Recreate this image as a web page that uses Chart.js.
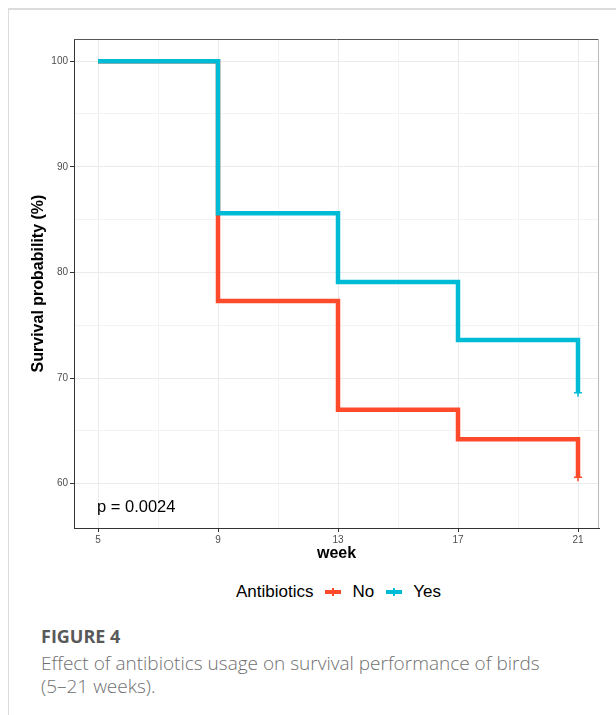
<!DOCTYPE html>
<html>
<head>
<meta charset="utf-8">
<script src="https://cdn.jsdelivr.net/npm/chart.js@4.4.1/dist/chart.umd.min.js"></script>
<style>
  html, body { margin: 0; padding: 0; background: #fff; }
  body { width: 616px; height: 715px; position: relative; overflow: hidden; font-family: "Liberation Sans", Arial, sans-serif; }
  #frame { position: absolute; left: 8px; top: 8px; right: 0; bottom: 0; border-top: 2px solid #dcdcdc; border-left: 1px solid #dcdcdc; }
  #chart { position: absolute; left: 0; top: 0; }
  #pval { position: absolute; left: 97px; top: 497px; font-size: 16.5px; color: #000; }
  #legend { position: absolute; top: 582px; left: 236px; font-size: 17px; color: #000; display: flex; align-items: center; height: 20px; }
  .key { display: inline-block; position: relative; width: 16px; height: 4px; margin: 0 11px 0 12px; }
  .key::after { content: ""; position: absolute; left: 7px; top: -2px; width: 1.5px; height: 8px; background: inherit; }
  .caption { position: absolute; left: 41px; font-family: "Open Sans", "Noto Sans", sans-serif; color: #707070; font-size: 19px; font-weight: 300; white-space: nowrap; }
  #figNum { top: 624px; font-size: 18px; font-weight: bold; color: #595959; }
</style>
</head>
<body>
<div id="frame"></div>
<canvas id="chart" width="616" height="570"></canvas>
<div id="pval">p = 0.0024</div>
<div id="legend">
  <span>Antibiotics</span>
  <span class="key" style="background:#FC4A2A"></span><span>No</span>
  <span class="key" style="background:#00BBD6"></span><span>Yes</span>
</div>
<div class="caption" id="figNum">FIGURE 4</div>
<div class="caption" style="top:650px">Effect of antibiotics usage on survival performance of birds</div>
<div class="caption" style="top:673px">(5–21 weeks).</div>
<script>
// survival data (week of event, survival %)
const weeks = [5, 9, 13, 17, 21];
const survNo = [100, 77.3, 67.0, 64.2, 60.6];
const survYes = [100, 85.6, 79.1, 73.6, 68.6];
const censorWeeks = [21];
const censorNo = [60.6];
const censorYes = [68.6];

// axis ticks (all gridlines) and the ones that get labels
const xTicks = [5, 7, 9, 11, 13, 15, 17, 19, 21];
const xLabels = [5, 9, 13, 17, 21];
const yTicks = [60, 65, 70, 75, 80, 85, 90, 95, 100];
const yLabels = [60, 70, 80, 90, 100];

const colors = { no: "#FC4A2A", yes: "#00BBD6" };

const toPoints = (xs, ys) => xs.map((x, i) => ({ x: x, y: ys[i] }));

const panelBorder = {
    id: "panelBorder",
    afterDraw(chart) {
        const { ctx, chartArea: a } = chart;
        ctx.save();
        ctx.lineWidth = 1;
        ctx.strokeStyle = "#555";
        ctx.beginPath();
        ctx.moveTo(a.left, a.top + 0.5);
        ctx.lineTo(a.right, a.top + 0.5);
        ctx.stroke();
        ctx.strokeStyle = "#bbb";
        ctx.beginPath();
        ctx.moveTo(a.right - 0.5, a.top);
        ctx.lineTo(a.right - 0.5, a.bottom);
        ctx.stroke();
        ctx.restore();
    },
};

const gridColor = (labels) => (c) =>
    c.tick && labels.includes(c.tick.value) ? "#ebebeb" : "#f3f3f3";
const tickColor = (labels) => (c) =>
    c.tick && labels.includes(c.tick.value) ? "#333" : "rgba(0,0,0,0)";

new Chart(document.getElementById("chart"), {
    type: "scatter",
    data: {
        datasets: [
            {
                label: "Yes",
                data: toPoints(weeks, survYes),
                showLine: true,
                stepped: "before",
                borderColor: colors.yes,
                borderWidth: 4.5,
                borderJoinStyle: "miter",
                pointRadius: 0,
                order: 1,
            },
            {
                label: "No",
                data: toPoints(weeks, survNo),
                showLine: true,
                stepped: "before",
                borderColor: colors.no,
                borderWidth: 4.5,
                borderJoinStyle: "miter",
                pointRadius: 0,
                order: 3,
            },
            {
                label: "Yes censored",
                data: toPoints(censorWeeks, censorYes),
                pointStyle: "cross",
                pointRadius: 4,
                borderWidth: 1.5,
                borderColor: colors.yes,
                order: 0,
            },
            {
                label: "No censored",
                data: toPoints(censorWeeks, censorNo),
                pointStyle: "cross",
                pointRadius: 4,
                borderWidth: 1.5,
                borderColor: colors.no,
                order: 2,
            },
        ],
    },
    options: {
        responsive: false,
        animation: false,
        devicePixelRatio: 1,
        layout: { padding: { left: 0, top: 39, right: 17, bottom: 0 } },
        plugins: { legend: { display: false }, tooltip: { enabled: false } },
        scales: {
            x: {
                type: "linear",
                min: 4.2,
                max: 21.7,
                afterBuildTicks: (s) => { s.ticks = xTicks.map((v) => ({ value: v })); },
                afterFit: (s) => { s.height = 42; },
                ticks: {
                    autoSkip: false,
                    maxRotation: 0,
                    padding: 2,
                    color: "#4d4d4d",
                    font: { family: "Liberation Sans", size: 10 },
                    callback: (v) => (xLabels.includes(v) ? String(v) : ""),
                },
                grid: { color: gridColor(xLabels), tickColor: tickColor(xLabels), tickLength: 4 },
                border: { color: "#333", width: 1 },
                title: {
                    display: true,
                    text: "week",
                    color: "#000",
                    font: { family: "Liberation Sans", size: 16, weight: "bold" },
                    padding: { top: 0, bottom: 7 },
                },
            },
            y: {
                min: 55.8,
                max: 102.1,
                afterBuildTicks: (s) => { s.ticks = yTicks.map((v) => ({ value: v })); },
                afterFit: (s) => { s.width = 74; },
                ticks: {
                    autoSkip: false,
                    padding: 2,
                    color: "#4d4d4d",
                    font: { family: "Liberation Sans", size: 10 },
                    callback: (v) => (yLabels.includes(v) ? String(v) : ""),
                },
                grid: { color: gridColor(yLabels), tickColor: tickColor(yLabels), tickLength: 4 },
                border: { color: "#333", width: 1 },
                title: {
                    display: true,
                    text: "Survival probability (%)",
                    color: "#000",
                    font: { family: "Liberation Sans", size: 16, weight: "bold" },
                    padding: { top: 29, bottom: 0 },
                },
            },
        },
    },
    plugins: [panelBorder],
});
</script>
</body>
</html>
